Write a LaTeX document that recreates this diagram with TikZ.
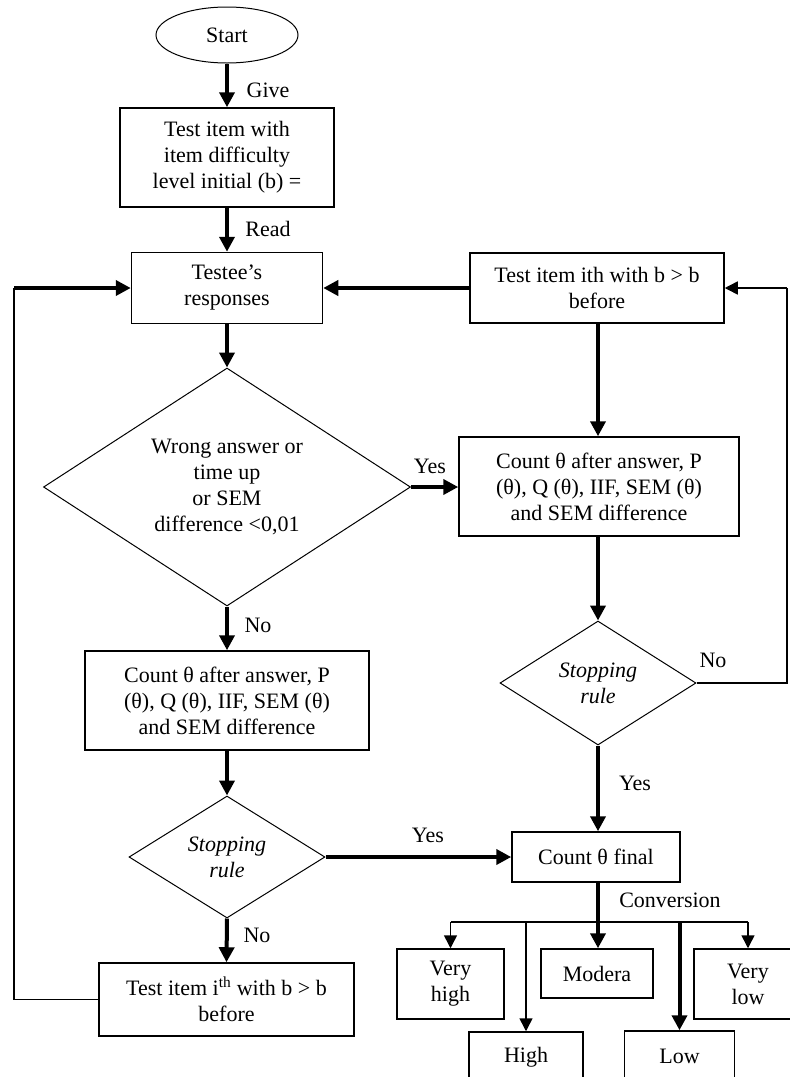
\documentclass[tikz,border=0pt]{standalone}
\usepackage{fontspec}
\setmainfont{Liberation Serif}
\usetikzlibrary{shapes.geometric,arrows.meta}
\begin{document}
\begin{tikzpicture}[x=1pt,y=-1pt,
  every node/.style={font=\fontsize{22}{26}\selectfont},
  box/.style={draw, line width=1.5pt, align=center, inner sep=0pt},
  dia/.style={draw, diamond, line width=1pt, inner sep=0pt},
  thk/.style={line width=4pt, -{Triangle[length=15pt,width=15pt]}},
  thinarr/.style={line width=1.5pt, -{Triangle[length=13pt,width=13pt]}},
  thinline/.style={line width=1.5pt},
  lbl/.style={inner sep=0pt}
]
\useasboundingbox (0,0) rectangle (790,1077);
% left column
\node[draw, ellipse, line width=1pt, minimum width=142pt, minimum height=56pt, inner sep=0pt] (start) at (227,35) {Start};
\node[box, minimum width=214pt, minimum height=99pt] (box1) at (227,157.5) {Test item with\\item difficulty\\level initial (b) =};
\node[box, minimum width=191pt, minimum height=71pt] (testee) at (227,288) {Testee’s\\responses};
\node[dia, minimum width=367pt, minimum height=238pt] (dia1) at (227,487) {};
\node[align=center, inner sep=0pt] (dia1t) at (dia1.center) {Wrong answer or\\time up\\or SEM\\difference <0,01};
\node[box, minimum width=284pt, minimum height=99pt] (countL) at (227,700.5) {Count θ after answer, P\\(θ), Q (θ), IIF, SEM (θ)\\and SEM difference};
\node[dia, minimum width=196pt, minimum height=122pt] (stopL) at (227,857) {};
\node[align=center, inner sep=0pt, font=\fontsize{22}{26}\selectfont\itshape] (stopLt) at (stopL.center) {Stopping\\rule};
\node[box, minimum width=255pt, minimum height=73pt] (tiL) at (226.5,999.5) {Test item i\textsuperscript{th} with b > b\\before};
% right column
\node[box, minimum width=254pt, minimum height=70pt] (tith) at (597,288) {Test item ith with b > b\\before};
\node[box, minimum width=280pt, minimum height=99pt] (countR) at (599,486.5) {Count θ after answer, P\\(θ), Q (θ), IIF, SEM (θ)\\and SEM difference};
\node[dia, minimum width=196pt, minimum height=124pt] (stopR) at (598,683) {};
\node[align=center, inner sep=0pt, font=\fontsize{22}{26}\selectfont\itshape] (stopRt) at (stopR.center) {Stopping\\rule};
\node[box, minimum width=168pt, minimum height=50pt] (countF) at (596,857) {Count θ final};
% results
\node[box, minimum width=107pt, minimum height=70pt] (vhigh) at (450.5,984) {Very\\high};
\node[box, minimum width=112pt, minimum height=49pt] (modera) at (597,973.5) {Modera};
\node[box, minimum width=108pt, minimum height=70pt] (vlow) at (748,984) {Very\\low};
\node[box, minimum width=114pt, minimum height=50pt] (high) at (526,1057) {High};
\node[box, minimum width=110pt, minimum height=50pt] (low) at (679.5,1056) {Low};
% labels
\node[lbl] (give) at (268,90) {Give};
\node[lbl] (read) at (268,229) {Read};
\node[lbl] (yes1) at (430,466) {Yes};
\node[lbl] (no1) at (258,625) {No};
\node[lbl] (no2) at (713,660) {No};
\node[lbl] (yes2) at (635,783) {Yes};
\node[lbl] (yes3) at (428,835) {Yes};
\node[lbl] (no3) at (257,935) {No};
\node[lbl] (conv) at (670,900) {Conversion};
% coordinates
\coordinate (lt) at (14,288);
\coordinate (rt) at (787,288);
\coordinate (br) at (598,922);
\coordinate (bvh) at (450.5,922);
\coordinate (bh) at (526,922);
\coordinate (bl) at (679.5,922);
\coordinate (bvl) at (748,922);
% connectors left
\draw[thk] (start.south) -- (box1.north);
\draw[thk] (box1.south) -- (testee.north);
\draw[thk] (testee.south) -- (dia1.north);
\draw[thk] (dia1.south) -- (countL.north);
\draw[thk] (countL.south) -- (stopL.north);
\draw[thk] (stopL.south) -- (tiL.north);
\draw[thk] (dia1.east) -- (dia1.east -| countR.west);
\draw[thk] (stopL.east) -- (stopL.east -| countF.west);
\draw[thinline] (tiL.west) -- (tiL.west -| lt) -- (lt);
\draw[thk] (lt) -- (testee.west);
% connectors right
\draw[thk] (tith.west) -- (testee.east);
\draw[thk] (tith.south -| stopR.north) -- (countR.north -| stopR.north);
\draw[thk] (countR.south -| stopR.north) -- (stopR.north);
\draw[thk] (stopR.south) -- (stopR.south |- countF.north);
\draw[thinline] (stopR.east) -- (stopR.east -| rt) -- (rt);
\draw[thinarr] (rt) -- (tith.east);
% conversion
\draw[thk] (countF.south -| br) -- (br |- modera.north);
\draw[thinline] (bvh) -- (bvl);
\draw[thinarr] (bvh) -- (vhigh.north);
\draw[thinarr] (bh) -- (high.north);
\draw[thk] (bl) -- (low.north);
\draw[thinarr] (bvl) -- (vlow.north);
\end{tikzpicture}
\end{document}
